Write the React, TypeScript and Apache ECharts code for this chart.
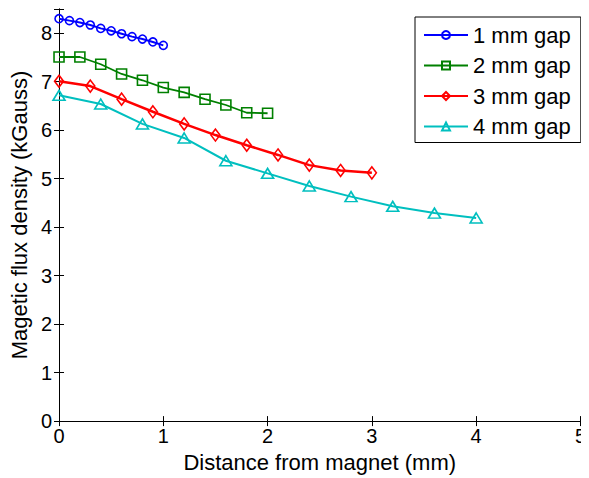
import React, { useEffect, useRef } from "react";
import * as echarts from "echarts";

const gap1X = [0, 0.1, 0.2, 0.3, 0.4, 0.5, 0.6, 0.7, 0.8, 0.9, 1.0];
const gap1Y = [8.3, 8.26, 8.22, 8.17, 8.1, 8.05, 7.99, 7.93, 7.88, 7.82, 7.75];
const gap2X = [0, 0.2, 0.4, 0.6, 0.8, 1.0, 1.2, 1.4, 1.6, 1.8, 2.0];
const gap2Y = [7.51, 7.51, 7.36, 7.16, 7.03, 6.88, 6.78, 6.64, 6.52, 6.36, 6.35];
const gap3X = [0, 0.3, 0.6, 0.9, 1.2, 1.5, 1.8, 2.1, 2.4, 2.7, 3.0];
const gap3Y = [7.01, 6.91, 6.64, 6.38, 6.13, 5.9, 5.69, 5.49, 5.28, 5.17, 5.12];
const gap4X = [0, 0.4, 0.8, 1.2, 1.6, 2.0, 2.4, 2.8, 3.2, 3.6, 4.0];
const gap4Y = [6.72, 6.54, 6.13, 5.84, 5.37, 5.11, 4.85, 4.63, 4.43, 4.29, 4.19];
const seriesNames = ["1 mm gap", "2 mm gap", "3 mm gap", "4 mm gap"];
const xTicks = [0, 1, 2, 3, 4, 5];
const yTicks = [0, 1, 2, 3, 4, 5, 6, 7, 8];

const FONT = "'Liberation Sans', Arial, sans-serif";

function zip(xs: number[], ys: number[]) {
  return xs.map((x, i) => [x, ys[i]]);
}

export default function App() {
  const ref = useRef<HTMLDivElement>(null);
  useEffect(() => {
    if (!ref.current) return;
    const chart = echarts.init(ref.current, null, { renderer: "svg" });
    const axisLine = { show: true, lineStyle: { color: "#000", width: 1 } };
    const tick = { show: true, inside: true, length: 5, lineStyle: { color: "#000" } };
    const mk = (
      name: string,
      xs: number[],
      ys: number[],
      color: string,
      symbol: string,
      size: any,
      lw: number
    ) => ({
      name,
      type: "line",
      data: zip(xs, ys),
      symbol,
      symbolSize: size,
      showSymbol: true,
      lineStyle: { color, width: lw },
      itemStyle: { color: "rgba(255,255,255,0)", borderColor: color, borderWidth: 1.6 },
      z: 3,
    });
    chart.setOption({
      animation: false,
      backgroundColor: "#fff",
      textStyle: { fontFamily: FONT },
      grid: { left: 57, right: 2, top: 9, bottom: 51, containLabel: false },
      xAxis: [
        {
          type: "value",
          position: "bottom",
          min: xTicks[0],
          max: xTicks[xTicks.length - 1],
          interval: 1,
          axisLine,
          axisTick: tick,
          splitLine: { show: false },
          axisLabel: { color: "#000", fontSize: 20, fontFamily: FONT, margin: 5 },
          name: "Distance from magnet (mm)",
          nameLocation: "middle",
          nameGap: 25,
          nameTextStyle: { color: "#000", fontSize: 22, fontFamily: FONT },
        },
        {
          type: "value",
          position: "top",
          min: xTicks[0],
          max: xTicks[xTicks.length - 1],
          interval: 1,
          axisLine,
          axisTick: tick,
          splitLine: { show: false },
          axisLabel: { show: false },
        },
      ],
      yAxis: [
        {
          type: "value",
          position: "left",
          min: 0,
          max: 8.5,
          interval: 1,
          axisLine,
          axisTick: tick,
          splitLine: { show: false },
          axisLabel: {
            color: "#000",
            fontSize: 20,
            fontFamily: FONT,
            margin: 7,
            formatter: (v: number) => (yTicks.includes(v) ? String(v) : ""),
          },
          name: "Magetic flux density (kGauss)",
          nameLocation: "middle",
          nameGap: 24,
          nameTextStyle: { color: "#000", fontSize: 22, fontFamily: FONT },
        },
        {
          type: "value",
          position: "right",
          min: 0,
          max: 8.5,
          interval: 1,
          axisLine,
          axisTick: tick,
          splitLine: { show: false },
          axisLabel: { show: false },
        },
      ],
      legend: {
        show: true,
        orient: "vertical",
        left: 415,
        top: 17,
        padding: [7, 10, 5, 8],
        itemGap: 8.5,
        itemWidth: 44,
        itemHeight: 10,
        backgroundColor: "#fff",
        borderColor: "#000",
        borderWidth: 1,
        borderRadius: 0,
        data: seriesNames,
        textStyle: { color: "#000", fontSize: 22, fontFamily: FONT, lineHeight: 22 },
      },
      series: [
        mk(seriesNames[0], gap1X, gap1Y, "#0000ff", "circle", 8, 2),
        mk(seriesNames[1], gap2X, gap2Y, "#008000", "rect", 10, 1.8),
        mk(seriesNames[2], gap3X, gap3Y, "#ff0000", "diamond", [9, 12], 2.5),
        mk(seriesNames[3], gap4X, gap4Y, "#00bfbf", "triangle", [12, 10], 2),
      ],
    });
    return () => chart.dispose();
  }, []);
  return <div ref={ref} style={{ width: 589, height: 478, marginLeft: -8, marginTop: -8 }} />;
}
